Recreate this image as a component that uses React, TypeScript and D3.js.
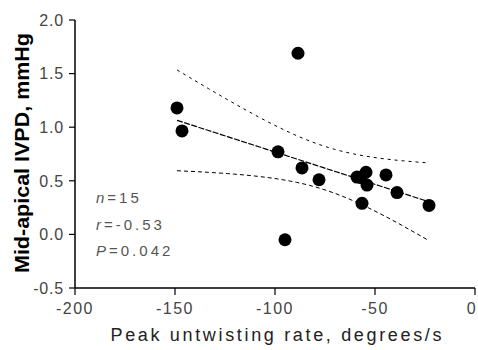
import React from "react";
import * as d3 from "d3";

// Peak untwisting rate (degrees/s) vs mid-apical IVPD (mmHg)
const untwistRate = [-149, -146.5, -98.5, -95, -88.5, -86.5, -78, -59, -57, -56.5, -54.5, -54, -44.5, -39, -23];
const ivpd = [1.18, 0.965, 0.77, -0.05, 1.69, 0.62, 0.51, 0.535, 0.53, 0.29, 0.58, 0.46, 0.555, 0.39, 0.27];

const xTicks = [-200, -150, -100, -50, 0];
const yTicks = [-0.5, 0, 0.5, 1.0, 1.5, 2.0];
const statLines = [
  { sym: "n", val: "=15" },
  { sym: "r", val: "=-0.53" },
  { sym: "P", val: "=0.042" },
];
// two-tailed t critical value, 13 degrees of freedom, 95%
const tCrit = 2.16;

const W = 478;
const H = 350;

export default function App() {
  const x = d3.scaleLinear().domain([-200, 0]).range([75, 475]);
  const y = d3.scaleLinear().domain([-0.5, 2.0]).range([288, 20]);

  const n = untwistRate.length;
  const mx = d3.mean(untwistRate) as number;
  const my = d3.mean(ivpd) as number;
  let sxx = 0;
  let sxy = 0;
  for (let i = 0; i < n; i++) {
    sxx += (untwistRate[i] - mx) ** 2;
    sxy += (untwistRate[i] - mx) * (ivpd[i] - my);
  }
  const slope = sxy / sxx;
  const icpt = my - slope * mx;
  let sse = 0;
  for (let i = 0; i < n; i++) sse += (ivpd[i] - (icpt + slope * untwistRate[i])) ** 2;
  const s = Math.sqrt(sse / (n - 2));

  const [xmin, xmax] = d3.extent(untwistRate) as [number, number];
  const xs = d3.range(0, 41).map((k) => xmin + ((xmax - xmin) * k) / 40);
  const fit = (v: number) => icpt + slope * v;
  const half = (v: number) => tCrit * s * Math.sqrt(1 / n + (v - mx) ** 2 / sxx);

  const fitPath = d3.line<number>().x((v) => x(v)).y((v) => y(fit(v)))(xs) as string;
  const upPath = d3.line<number>().x((v) => x(v)).y((v) => y(fit(v) + half(v)))(xs) as string;
  const loPath = d3.line<number>().x((v) => x(v)).y((v) => y(fit(v) - half(v)))(xs) as string;

  const font = "'Liberation Sans', Arial, sans-serif";

  return (
    <svg width={W} height={H} style={{ position: "absolute", left: 0, top: 0, background: "#fff" }}>
      {/* axes */}
      <line x1={x(-200)} x2={x(-200)} y1={y(2.0)} y2={y(-0.5)} stroke="#000" strokeWidth={1.5} />
      <line x1={x(-200)} x2={x(0)} y1={y(-0.5)} y2={y(-0.5)} stroke="#000" strokeWidth={1.5} />
      {yTicks.map((t) => (
        <g key={"y" + t}>
          <line x1={x(-200) - 6} x2={x(-200)} y1={y(t)} y2={y(t)} stroke="#000" strokeWidth={1.2} />
          <text
            x={x(-200) - 11}
            y={y(t)}
            dy="0.36em"
            textAnchor="end"
            fontFamily={font}
            fontSize={16}
            letterSpacing={0.8}
            fill="#444"
          >
            {t.toFixed(1)}
          </text>
        </g>
      ))}
      {xTicks.map((t) => (
        <g key={"x" + t}>
          <line x1={x(t)} x2={x(t)} y1={y(-0.5)} y2={y(-0.5) + 7} stroke="#000" strokeWidth={1.2} />
          <text
            x={Math.min(x(t), W - 6)}
            y={y(-0.5) + 20}
            dy="0.36em"
            textAnchor="middle"
            fontFamily={font}
            fontSize={16}
            letterSpacing={1.5}
            fill="#444"
          >
            {t}
          </text>
        </g>
      ))}

      {/* regression line and 95% confidence band */}
      <path d={upPath} fill="none" stroke="#000" strokeWidth={1} strokeDasharray="3,4" />
      <path d={loPath} fill="none" stroke="#000" strokeWidth={1} strokeDasharray="4,3" />
      <path d={fitPath} fill="none" stroke="#000" strokeWidth={1.2} strokeDasharray="6,1.5" />

      {/* observations */}
      {untwistRate.map((v, i) => (
        <circle key={i} cx={x(v)} cy={y(ivpd[i])} r={6.5} fill="#000" />
      ))}

      {/* statistics */}
      {statLines.map((l, i) => (
        <text
          key={l.sym}
          x={96}
          y={198 + i * 26.5}
          dy="0.36em"
          fontFamily={font}
          fontSize={15}
          letterSpacing={3}
          fill="#555"
        >
          <tspan fontStyle="italic">{l.sym}</tspan>
          {l.val}
        </text>
      ))}

      {/* axis titles */}
      <text
        x={276}
        y={335}
        dy="0.36em"
        textAnchor="middle"
        fontFamily={font}
        fontSize={18}
        fill="#222"
        textLength={331}
        lengthAdjust="spacing"
      >
        Peak untwisting rate, degrees/s
      </text>
      <text
        transform={`translate(22,153) rotate(-90)`}
        textAnchor="middle"
        dy="0.36em"
        fontFamily={font}
        fontSize={20}
        fontWeight="bold"
        fill="#000"
        textLength={240}
        lengthAdjust="spacingAndGlyphs"
      >
        Mid-apical IVPD, mmHg
      </text>
    </svg>
  );
}
